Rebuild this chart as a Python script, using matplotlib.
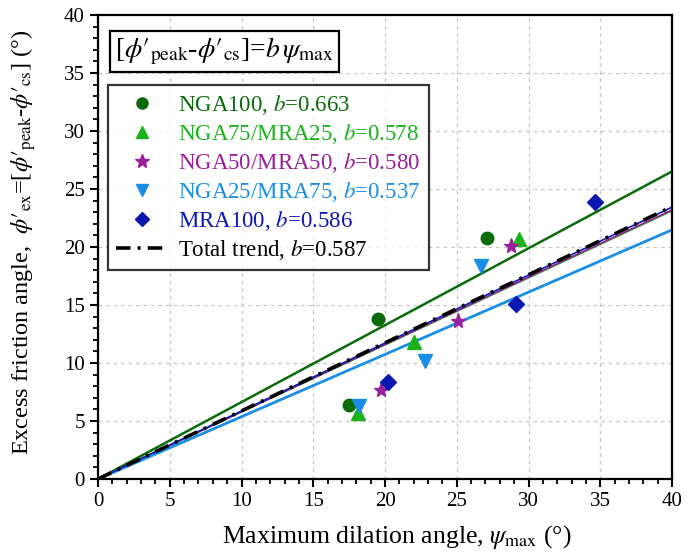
import matplotlib
matplotlib.use("Agg")
import matplotlib.pyplot as plt
import numpy as np
from matplotlib.lines import Line2D
from matplotlib.ticker import MultipleLocator

plt.rcParams['font.family'] = ['Liberation Serif', 'DejaVu Serif']
plt.rcParams['mathtext.fontset'] = 'stix'

# Data
groups = ["NGA100", "NGA75/MRA25", "NGA50/MRA50", "NGA25/MRA75", "MRA100"]
b_values = [0.663, 0.578, 0.580, 0.537, 0.586]
b_total = 0.587
psi_max = [
    [17.5, 19.5, 27.1],
    [18.1, 22.0, 29.3],
    [19.7, 25.1, 28.8],
    [18.2, 22.8, 26.7],
    [20.2, 29.1, 34.6],
]
phi_ex = [
    [6.4, 13.8, 20.8],
    [5.7, 11.8, 20.7],
    [7.7, 13.6, 20.1],
    [6.3, 10.2, 18.4],
    [8.4, 15.1, 23.9],
]
colors = ["#0b6b0b", "#1bb31b", "#9a1f9a", "#1a8ee6", "#0a18b0"]
markers = ["o", "^", "*", "v", "D"]
msizes = [9, 10, 11, 10, 8]
line_w = [1.8, 1.2, 1.2, 2.0, 1.2]

fig = plt.figure(figsize=(6.95, 5.56), dpi=100)
ax = fig.add_axes([0.141, 0.1385, 0.826, 0.8345])

xfit = np.array([0.0, 40.0])
for i in range(5):
    ax.plot(xfit, b_values[i] * xfit, color=colors[i], lw=line_w[i], zorder=2)
ax.plot(xfit, b_total * xfit, color="black", lw=2.6, dashes=[4, 2, 0.8, 2], zorder=3)

for i in range(5):
    ax.plot(psi_max[i], phi_ex[i], linestyle="none", marker=markers[i], color=colors[i],
            markersize=msizes[i], markeredgecolor=colors[i], zorder=4)

ax.set_xlim(0, 40)
ax.set_ylim(0, 40)
ax.xaxis.set_major_locator(MultipleLocator(5))
ax.yaxis.set_major_locator(MultipleLocator(5))
ax.xaxis.set_minor_locator(MultipleLocator(1))
ax.yaxis.set_minor_locator(MultipleLocator(1))
ax.tick_params(which="major", direction="out", length=6, width=1.5, labelsize=15)
ax.tick_params(which="minor", direction="out", length=3.5, width=1.3)
ax.tick_params(top=False, right=False, which="both")
for s in ax.spines.values():
    s.set_linewidth(1.6)
ax.grid(True, which="major", linestyle=(0, (3, 3)), color="#c8c8c8", lw=0.9)
ax.set_axisbelow(True)

P = "\\phi\u2032"
ax.set_xlabel(r"Maximum dilation angle, $\psi_{\mathrm{max}}$ (°)", fontsize=18.5)
ax.xaxis.set_label_coords(0.52, -0.095)
ax.set_ylabel(r"Excess friction angle,  $" + P + r"_{\mathrm{ex}}$=[$" + P + r"_{\mathrm{peak}}$-$"
              + P + r"_{\mathrm{cs}}$] (°)", fontsize=17.5)
ax.yaxis.set_label_coords(-0.105, 0.51)

# Formula box
ax.text(0.03, 0.955, r"[$" + P + r"_{\mathrm{peak}}$-$" + P + r"_{\mathrm{cs}}$]=$b\,\psi_{\mathrm{max}}$",
        transform=ax.transAxes, fontsize=20, va="top", ha="left",
        bbox=dict(boxstyle="square,pad=0.18", fc="white", ec="black", lw=1.6))

handles = []
labels = []
for i in range(5):
    handles.append(Line2D([], [], linestyle="none", marker=markers[i], color=colors[i],
                          markersize=msizes[i] - 1))
    labels.append(f"{groups[i]}, $b$={b_values[i]:.3f}")
handles.append(Line2D([], [], color="black", lw=2.6, dashes=[4, 2, 0.8, 2]))
labels.append(f"Total trend, $b$={b_total:.3f}")

leg = ax.legend(handles, labels, loc="upper left", bbox_to_anchor=(0.018, 0.85),
                fontsize=16.5, frameon=True, fancybox=False, edgecolor="black",
                handlelength=2.2, handletextpad=0.5, labelspacing=0.22, borderpad=0.35,
                borderaxespad=0)
leg.get_frame().set_linewidth(1.6)
for t, c in zip(leg.get_texts(), colors + ["black"]):
    t.set_color(c)

fig.savefig("out.png", dpi=100)
